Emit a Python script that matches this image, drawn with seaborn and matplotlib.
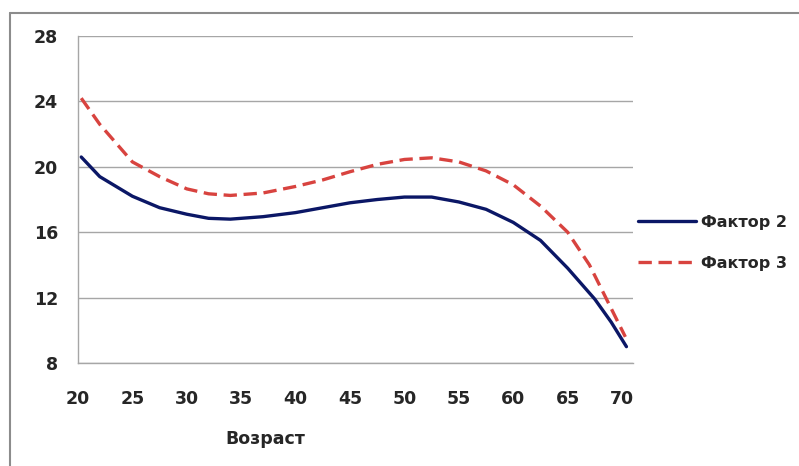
import pandas as pd
import matplotlib
matplotlib.use("Agg")
import matplotlib.pyplot as plt
import seaborn as sns
from matplotlib.lines import Line2D

# values
age_f2 = [20.3, 22, 25, 27.5, 30, 32, 34, 37, 40, 42.5, 45, 47.5, 50, 52.5,
          55, 57.5, 60, 62.5, 65, 67.5, 69, 70.4]
val_f2 = [20.6, 19.4, 18.2, 17.5, 17.1, 16.85, 16.8, 16.95, 17.2, 17.5, 17.8,
          18.0, 18.15, 18.15, 17.85, 17.4, 16.6, 15.5, 13.8, 11.9, 10.5, 9.0]

age_f3 = [20.3, 22, 25, 27.5, 30, 32, 34, 37, 40, 42.5, 45, 47.5, 50, 52.5,
          55, 57.5, 60, 62.5, 65, 67, 68.5, 70.3]
val_f3 = [24.2, 22.6, 20.3, 19.4, 18.65, 18.35, 18.25, 18.4, 18.8, 19.2, 19.7,
          20.15, 20.45, 20.55, 20.3, 19.75, 18.9, 17.6, 16.0, 14.0, 12.0, 9.6]

x_ticks = [20, 25, 30, 35, 40, 45, 50, 55, 60, 65, 70]
y_ticks = [8, 12, 16, 20, 24, 28]

df = pd.concat([
    pd.DataFrame({"Возраст": age_f2, "value": val_f2, "series": "Фактор 2"}),
    pd.DataFrame({"Возраст": age_f3, "value": val_f3, "series": "Фактор 3"}),
])

sns.set_style("white")
plt.rcParams["font.family"] = ["DejaVu Sans"]

fig = plt.figure(figsize=(7.99, 4.66), dpi=100)
ax = fig.add_axes([0.0976, 0.221, 0.6946, 0.7017])

sns.lineplot(data=df, x="Возраст", y="value", hue="series", style="series",
             palette={"Фактор 2": "#0b1766", "Фактор 3": "#d8433f"},
             dashes={"Фактор 2": "", "Фактор 3": (4, 2)},
             linewidth=2.4, sort=False, ax=ax)

ax.set_xlim(20, 71)
ax.set_ylim(8, 28)
ax.set_xticks(x_ticks)
ax.set_yticks(y_ticks)
ax.grid(axis="y", color="#a6a6a6", linewidth=1)
ax.grid(axis="x", visible=False)
for side in ["top", "right"]:
    ax.spines[side].set_visible(False)
for side in ["left", "bottom"]:
    ax.spines[side].set_color("#a6a6a6")
    ax.spines[side].set_linewidth(1)

ax.tick_params(axis="both", direction="out", length=5.5, width=1, color="#a6a6a6",
               labelsize=12.5)
ax.tick_params(axis="x", pad=14)
ax.tick_params(axis="y", pad=9)
for lab in ax.get_xticklabels() + ax.get_yticklabels():
    lab.set_fontweight("bold")

ax.set_ylabel("")
ax.set_xlabel("Возраст", fontsize=12.5, fontweight="bold")
ax.xaxis.set_label_coords(0.337, -0.205)

leg = ax.legend(loc="center left", bbox_to_anchor=(0.7985, 0.479),
                bbox_transform=fig.transFigure, frameon=False,
                borderaxespad=0, borderpad=0,
                handlelength=3.6, handletextpad=0.35, labelspacing=1.6,
                prop={"size": 11.5, "weight": "bold"})
for h in leg.get_lines():
    h.set_linewidth(2.4)

# outer frame of the chart area
fig.add_artist(Line2D([10 / 799, 1.0], [1 - 13 / 466, 1 - 13 / 466],
                      transform=fig.transFigure, color="#8c8c8c", linewidth=1.5))
fig.add_artist(Line2D([10 / 799, 10 / 799], [0.0, 1 - 13 / 466],
                      transform=fig.transFigure, color="#8c8c8c", linewidth=1.5))

fig.savefig("out.png", dpi=100)
